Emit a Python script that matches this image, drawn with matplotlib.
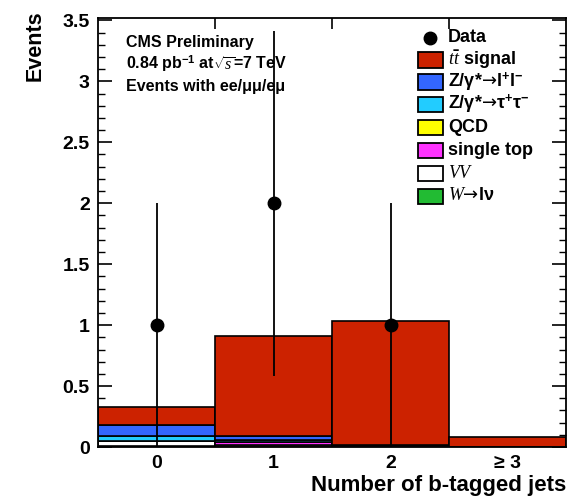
import numpy as np
import matplotlib
matplotlib.use("Agg")
import matplotlib.pyplot as plt
from matplotlib.patches import Rectangle
from matplotlib.lines import Line2D

plt.rcParams['font.family'] = ['Liberation Sans', 'DejaVu Sans']
plt.rcParams['mathtext.fontset'] = 'custom'
plt.rcParams['mathtext.rm'] = 'Liberation Sans:bold'
plt.rcParams['mathtext.bf'] = 'Liberation Sans:bold'
plt.rcParams['mathtext.it'] = 'Liberation Serif:italic'
plt.rcParams['mathtext.sf'] = 'DejaVu Sans'

# ---- data ----
categories = ["0", "1", "2", "\u2265 3"]
bin_pos = [0, 1, 2, 3]
w_lnu      = [0.012, 0.004, 0.002, 0.0]
vv         = [0.035, 0.010, 0.002, 0.0]
single_top = [0.005, 0.030, 0.010, 0.003]
qcd        = [0.0, 0.0, 0.0, 0.0]
z_tautau   = [0.035, 0.015, 0.0, 0.0]
z_ll       = [0.095, 0.035, 0.0, 0.0]
ttbar      = [0.150, 0.816, 1.016, 0.082]
data_vals  = [1, 2, 1, 0]
data_err   = [1.0, 1.414, 1.0, 0.0]

series = [w_lnu, vv, single_top, qcd, z_tautau, z_ll, ttbar]
colors = ["#22BB33", "#FFFFFF", "#FF33FF", "#FFFF00", "#22CCFF", "#3366FF", "#CC2200"]

ARROW = "$\\mathsf{\u2192}$"
legend_labels = ["$t\\bar{t}$ signal", "Z/\u03b3*" + ARROW + "l$^{+}$l$^{-}$",
                 "Z/\u03b3*" + ARROW + "\u03c4$^{+}$\u03c4$^{-}$", "QCD", "single top",
                 "$VV$", "$W$" + ARROW + "l\u03bd"]
legend_colors = ["#CC2200", "#3366FF", "#22CCFF", "#FFFF00", "#FF33FF", "#FFFFFF", "#22BB33"]

W, H = 576, 496
fig = plt.figure(figsize=(W / 100, H / 100), dpi=100)
ax = fig.add_axes([98 / W, 1 - 447 / H, (566 - 98) / W, (447 - 18) / H])

bottom = np.zeros(len(bin_pos))
for vals, c in zip(series, colors):
    vals = np.array(vals)
    ax.bar(bin_pos, vals, width=1.0, bottom=bottom, color=c,
           edgecolor="black", linewidth=1.2, zorder=2)
    bottom += vals

# data points
xd = [b for b, v in zip(bin_pos, data_vals) if v > 0]
yd = [v for v in data_vals if v > 0]
ed = [e for v, e in zip(data_vals, data_err) if v > 0]
ax.errorbar(xd, yd, yerr=ed, fmt='o', color='black', markersize=9,
            elinewidth=1.3, capsize=0, zorder=5)

ax.set_xlim(-0.5, 3.5)
ax.set_ylim(0, 3.52)

# y ticks
yt = [0, 0.5, 1, 1.5, 2, 2.5, 3, 3.5]
ax.set_yticks(yt)
ax.set_yticklabels(["0", "0.5", "1", "1.5", "2", "2.5", "3", "3.5"],
                   fontsize=14, fontweight='bold')
ax.set_yticks(np.arange(0, 3.51, 0.1), minor=True)
ax.tick_params(axis='y', which='major', direction='in', length=10, width=1.2,
               left=True, right=True, pad=6)
ax.tick_params(axis='y', which='minor', direction='in', length=5, width=1.0,
               left=True, right=True)

# x ticks
ax.set_xticks(bin_pos)
ax.set_xticklabels(categories, fontsize=14, fontweight='bold')
ax.set_xticks([0.5, 1.5, 2.5], minor=True)
ax.tick_params(axis='x', which='major', length=0, pad=6)
ax.tick_params(axis='x', which='minor', direction='in', length=8, width=1.2,
               top=True, bottom=True)

for s in ax.spines.values():
    s.set_linewidth(1.3)

fig.text(35 / W, 1 - 10 / H, "Events", rotation=90, ha='center', va='top',
         fontsize=15.5, fontweight='bold')
fig.text(566 / W, 1 - 485 / H, "Number of b-tagged jets", ha='right', va='center',
         fontsize=16, fontweight='bold')

# annotations
fig.text(126 / W, 1 - 43 / H, "CMS Preliminary", ha='left', va='center',
         fontsize=11.5, fontweight='bold')
fig.text(126 / W, 1 - 64 / H, "0.84 pb$^{-1}$ at$\\sqrt{s}$=7 TeV", ha='left', va='center',
         fontsize=11.5, fontweight='bold')
fig.text(126 / W, 1 - 86 / H, "Events with ee/\u03bc\u03bc/e\u03bc", ha='left', va='center',
         fontsize=11.5, fontweight='bold')

# legend (manual, figure pixel coords)
def fy(y):
    return 1 - y / H

fig.add_artist(Line2D([430 / W], [fy(38)], marker='o', color='black',
                      markersize=9, transform=fig.transFigure))
fig.text(448 / W, fy(38), "Data", ha='left', va='center', fontsize=13, fontweight='bold')
row_y = [60, 82, 104.5, 127.5, 150, 173, 196]
for y, lab, c in zip(row_y, legend_labels, legend_colors):
    fig.add_artist(Rectangle((418 / W, fy(y + 7.5)), 25 / W, 15 / H,
                             facecolor=c, edgecolor='black', linewidth=1.3,
                             transform=fig.transFigure))
    fig.text(448 / W, fy(y), lab, ha='left', va='center', fontsize=13, fontweight='bold')

fig.savefig("out.png", dpi=100)
